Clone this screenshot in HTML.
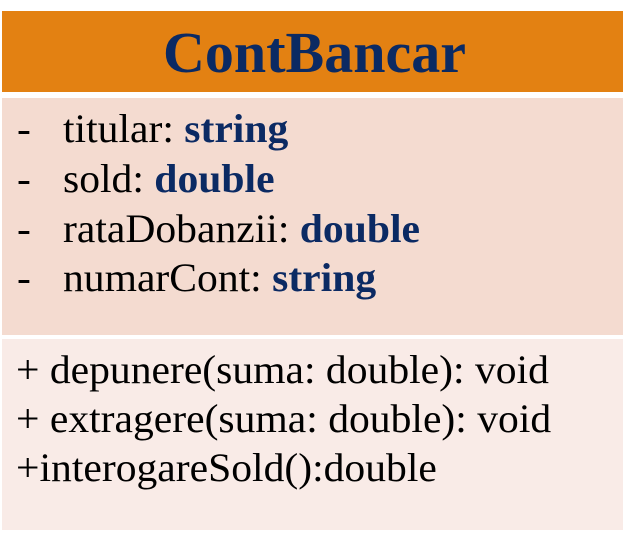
<!DOCTYPE html>
<html><head><style>
body{margin:0;width:629px;height:534px;background:#fff;position:relative;font-family:"Liberation Serif",serif;overflow:hidden}
.b{position:absolute;left:2px;width:621px}
.t{position:absolute;white-space:nowrap;font-size:40px;color:#000;line-height:1;transform:scaleX(1.04);transform-origin:0 0}
.k{color:#0b2a63;font-weight:bold}
</style></head><body>
<div class="b" style="top:11px;height:81px;background:#e38112"></div>
<div class="b" style="top:98px;height:237px;background:#f4dbd0"></div>
<div class="b" style="top:339px;height:191px;background:#f9ebe7"></div>
<div class="t" style="left:0;width:629px;text-align:center;top:24px;font-size:58px;font-weight:bold;color:#0b2a63;transform:none">ContBancar</div>
<div class="t" style="left:17px;top:109px">-</div><div class="t" style="left:63px;top:109px">titular: <span class="k">string</span></div>
<div class="t" style="left:17px;top:159px">-</div><div class="t" style="left:63px;top:159px">sold: <span class="k">double</span></div>
<div class="t" style="left:17px;top:209px">-</div><div class="t" style="left:63px;top:209px">rataDobanzii: <span class="k">double</span></div>
<div class="t" style="left:17px;top:258px">-</div><div class="t" style="left:63px;top:258px">numarCont: <span class="k">string</span></div>
<div class="t" style="left:16px;top:350px">+ depunere(suma: double): void</div>
<div class="t" style="left:16px;top:399px">+ extragere(suma: double): void</div>
<div class="t" style="left:16px;top:448px">+interogareSold():double</div>
</body></html>
